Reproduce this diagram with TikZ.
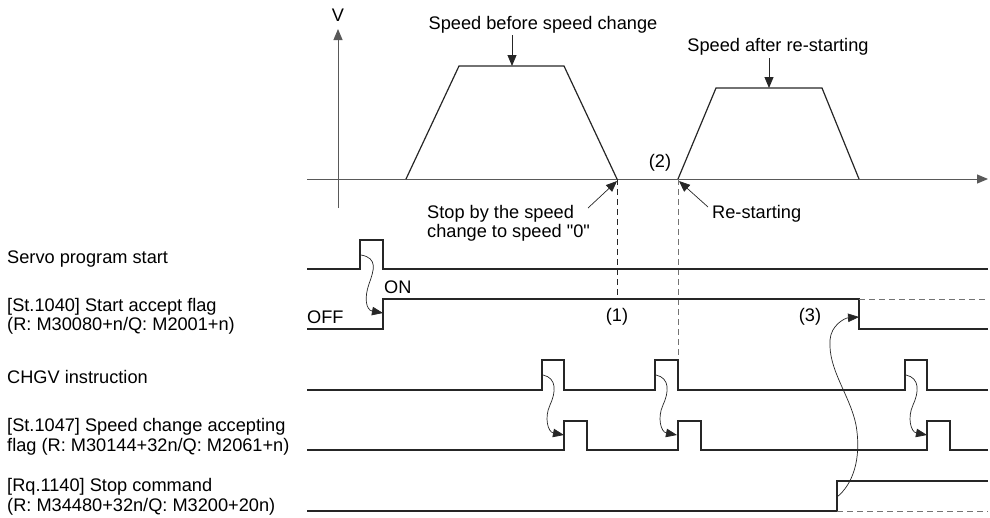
\documentclass[tikz,border=0pt]{standalone}
\usepackage{fontspec}
\setmainfont{Liberation Sans}
\newfontfamily\qfont{Liberation Sans}[Ligatures=TeXOff]
\usetikzlibrary{arrows.meta}
\begin{document}
\begin{tikzpicture}[x=1pt,y=-1pt,
  every node/.style={font=\fontsize{18.2}{19}\selectfont, inner sep=0pt},
  sig/.style={line width=1.2pt, black!85, line join=miter},
  axis/.style={line width=1pt, black!65},
  tipln/.style={line width=0.9pt, black!85, -{Triangle[length=11pt,width=9pt]}},
  curv/.style={line width=0.7pt, black!85, -{Triangle[length=11pt,width=8.5pt]}},
  lbl/.style={anchor=base west},
  dsh/.style={line width=0.9pt, dash pattern=on 6pt off 4pt},
]
\useasboundingbox (0,0) rectangle (990,517);

% axes
\draw[axis, -{Triangle[length=11pt,width=9pt]}] (338,208) -- (338,29);
\node (V) at (338,15) {V};
\draw[axis, -{Triangle[length=11pt,width=9pt]}] (307,179) -- (988,179);

% speed profiles
\draw[sig] (406,179) -- (459,66) -- (564,66) -- (617,179);
\draw[sig] (678,179) -- (716,88) -- (822,88) -- (859,179);

% profile labels
\node[anchor=base] (sb) at (543,29.5) {Speed before speed change};
\coordinate (sbTop) at (512,35);
\coordinate (sbTip) at (512,66);
\draw[tipln] (sbTop) -- (sbTip);
\node[anchor=base] (sa) at (778,51.5) {Speed after re-starting};
\coordinate (saTop) at (769,58);
\coordinate (saTip) at (769,88);
\draw[tipln] (saTop) -- (saTip);
\node (two) at (660,163) {(2)};

\node[lbl] (stop1) at (427,218.5) {Stop by the speed};
\node[lbl] (stop2) at (427,237.5) {change to speed {\qfont"0"}};
\coordinate (stopFrom) at (588,208);
\coordinate (stopTip) at (617,181);
\draw[tipln, line width=0.7pt] (stopFrom) -- (stopTip);
\node[lbl] (rest) at (712,218.5) {Re-starting};
\coordinate (restFrom) at (708,207);
\coordinate (restTip) at (679,181);
\draw[tipln, line width=0.7pt] (restFrom) -- (restTip);

% dashed guides
\draw[dsh, black!85] (617,179) -- (617,299);
\draw[dsh, black!55] (678,179) -- (678,360);

% left labels
\node[lbl] (l1) at (7,263.5) {Servo program start};
\node[lbl] (l2a) at (7,311.5) {[St.1040] Start accept flag};
\node[lbl] (l2b) at (7,330.5) {(R: M30080+n/Q: M2001+n)};
\node[lbl] (l3) at (7,383.5) {CHGV instruction};
\node[lbl] (l4a) at (7,431.5) {[St.1047] Speed change accepting};
\node[lbl] (l4b) at (7,451.5) {flag (R: M30144+32n/Q: M2061+n)};
\node[lbl] (l5a) at (7,491.5) {[Rq.1140] Stop command};
\node[lbl] (l5b) at (7,511.5) {(R: M34480+32n/Q: M3200+20n)};

% servo program start
\draw[sig] (307,269) -- (360,269) -- (360,240) -- (383,240) -- (383,269) -- (988,269);
% start accept flag
\draw[sig] (307,329) -- (383,329) -- (383,299) -- (859,299) -- (859,329) -- (988,329);
\draw[dsh, black!55] (859,299) -- (988,299);
\node[lbl] (on) at (384,293.5) {ON};
\node[lbl] (off) at (307,323.5) {OFF};
\node (one) at (617,317) {(1)};
\node (three) at (810,317) {(3)};

% CHGV instruction
\draw[sig] (307,390) -- (542,390) -- (542,360) -- (564,360) -- (564,390)
  -- (655,390) -- (655,360) -- (678,360) -- (678,390)
  -- (905,390) -- (905,360) -- (927,360) -- (927,390) -- (988,390);
% speed change accepting flag
\draw[sig] (307,450) -- (564,450) -- (564,421) -- (587,421) -- (587,450)
  -- (678,450) -- (678,421) -- (701,421) -- (701,450)
  -- (927,450) -- (927,421) -- (950,421) -- (950,450) -- (988,450);
% stop command
\draw[sig] (307,511) -- (837,511) -- (837,481) -- (988,481);
\draw[dsh, black!55] (837,511) -- (988,511);

% causal arrows
\coordinate (sA) at (361,255);
\coordinate (sB) at (383,313);
\draw[curv] (sA) .. controls (378,258) and (374,270) .. (369,284)
  .. controls (364,298) and (366,310) .. (sB);
\foreach \L [count=\i] in {542,655,905}{
  \coordinate (cA\i) at (\L+1,375);
  \coordinate (cB\i) at (\L+22,435);
  \draw[curv] (cA\i) .. controls (\L+15,378) and (\L+14,392) .. (\L+8,405)
    .. controls (\L+2,418) and (\L+6,432) .. (cB\i);
}
\coordinate (tA) at (837,497);
\coordinate (tB) at (859,317);
\draw[curv] (tA) .. controls (852,485) and (862,460) .. (856,425)
  .. controls (850,395) and (828,370) .. (830,340)
  .. controls (831,325) and (845,318) .. (tB);
\end{tikzpicture}
\end{document}
